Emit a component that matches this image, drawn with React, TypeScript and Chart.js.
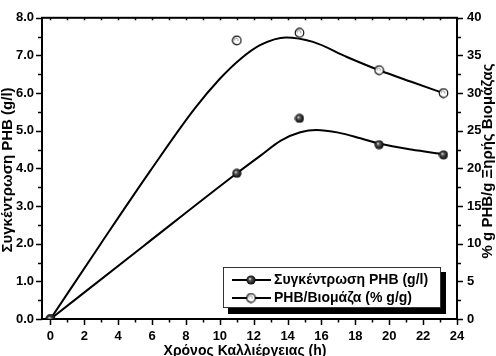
import React, { useEffect, useRef } from 'react';
import { Chart, registerables } from 'chart.js';
Chart.register(...registerables);

// Measured points
const timeH = [0, 11, 14.7, 19.4, 23.2];
const phbConc = [0, 3.87, 5.33, 4.63, 4.36];
const phbPercent = [0, 37.0, 38.0, 33.05, 30.0];

// Fitted curves
const phbFitTime = [0, 5.5, 11, 12.4, 13.6, 14.75, 15.7, 17, 18.3, 19.4, 21.3, 23.2];
const phbFitValues = [0, 1.94, 3.87, 4.34, 4.74, 4.96, 5.02, 4.95, 4.8, 4.66, 4.5, 4.38];
const pctFitTime = [0, 3, 5.9, 8.5, 10, 11.2, 12.4, 13.9, 15.5, 17.5, 19.45, 21.3, 23.2];
const pctFitValues = [0, 10.1, 19.7, 27.9, 31.9, 34.5, 36.4, 37.4, 36.8, 34.8, 33.0, 31.5, 30.0];

// Ticks
const xTickValues = [0, 2, 4, 6, 8, 10, 12, 14, 16, 18, 20, 22, 24];
const leftTickValues = [0, 1, 2, 3, 4, 5, 6, 7, 8];
const rightTickValues = [0, 5, 10, 15, 20, 25, 30, 35, 40];

const seriesLabels = ['Συγκέντρωση PHB (g/l)', 'PHB/Βιομάζα (% g/g)'];
const xTitle = 'Χρόνος Καλλιέργειας (h)';
const leftTitle = 'Συγκέντρωση PHB (g/l)';
const rightTitle = '% g PHB/g Ξηρής Βιομάζας';

const FONT = '"Liberation Sans", Arial, sans-serif';

function makeBlackMarker() {
  const c = document.createElement('canvas');
  c.width = 10; c.height = 10;
  const g = c.getContext('2d')!;
  g.beginPath();
  g.arc(5, 5, 4.6, 0, Math.PI * 2);
  const grad = g.createRadialGradient(3.8, 3.8, 0.2, 5, 5, 4.8);
  grad.addColorStop(0, '#e8e8e8');
  grad.addColorStop(0.3, '#555');
  grad.addColorStop(1, '#000');
  g.fillStyle = grad;
  g.fill();
  return c;
}

function makeWhiteMarker() {
  const c = document.createElement('canvas');
  c.width = 11; c.height = 11;
  const g = c.getContext('2d')!;
  g.beginPath();
  g.arc(5.5, 5.5, 4.3, 0, Math.PI * 2);
  g.fillStyle = '#fff';
  g.fill();
  g.lineWidth = 1.2;
  g.strokeStyle = '#111';
  g.stroke();
  g.beginPath();
  g.arc(5, 5, 1.8, Math.PI * 0.9, Math.PI * 2.2);
  g.lineWidth = 1;
  g.strokeStyle = '#888';
  g.stroke();
  return c;
}

const App = () => {
  const ref = useRef<HTMLCanvasElement>(null);
  useEffect(() => {
    const canvas = ref.current!;
    const blackMarker = makeBlackMarker();
    const whiteMarker = makeWhiteMarker();

    const framePlugin = {
      id: 'frame',
      beforeDatasetsDraw(chart: any) {
        const { ctx, chartArea: a, scales } = chart;
        const xs = scales.x, yl = scales.y, yr = scales.y1;
        ctx.save();
        ctx.strokeStyle = '#000';
        ctx.lineWidth = 2;
        ctx.strokeRect(a.left, a.top, a.right - a.left, a.bottom - a.top);
        ctx.lineWidth = 1.5;
        ctx.beginPath();
        for (let v = 0; v <= 24; v += 1) {
          const px = Math.round(xs.getPixelForValue(v)) + 0.5;
          const len = v % 2 === 0 ? 6 : 3.5;
          ctx.moveTo(px, a.bottom);
          ctx.lineTo(px, a.bottom + len);
          ctx.moveTo(px, a.top);
          ctx.lineTo(px, a.top + 2.5);
        }
        for (let v = 0; v <= 8; v += 0.5) {
          const py = Math.round(yl.getPixelForValue(v)) + 0.5;
          const len = v % 1 === 0 ? 6 : 4;
          ctx.moveTo(a.left, py);
          ctx.lineTo(a.left - len, py);
        }
        for (let v = 0; v <= 40; v += 2.5) {
          const py = Math.round(yr.getPixelForValue(v)) + 0.5;
          const len = v % 5 === 0 ? 6 : 4;
          ctx.moveTo(a.right, py);
          ctx.lineTo(a.right + len, py);
        }
        ctx.stroke();
        ctx.restore();
      },
      afterDraw(chart: any) {
        const { ctx } = chart;
        ctx.save();
        ctx.fillStyle = '#000';
        ctx.font = `bold 14px ${FONT}`;
        ctx.textAlign = 'center';
        ctx.textBaseline = 'alphabetic';
        ctx.fillText(xTitle, 245, 355);
        ctx.font = `bold 15px ${FONT}`;
        ctx.textBaseline = 'middle';
        ctx.save();
        ctx.translate(8, 170);
        ctx.rotate(-Math.PI / 2);
        ctx.fillText(leftTitle, 0, 0);
        ctx.restore();
        ctx.save();
        ctx.translate(488, 161);
        ctx.rotate(-Math.PI / 2);
        ctx.fillText(rightTitle, 0, 0);
        ctx.restore();

        ctx.fillStyle = '#000';
        ctx.fillRect(228, 272, 218, 42);
        ctx.fillStyle = '#fff';
        ctx.fillRect(223, 267, 218, 41);
        ctx.strokeStyle = '#333';
        ctx.lineWidth = 1;
        ctx.strokeRect(223.5, 267.5, 217, 40);
        const rows = [280, 298];
        const markers = [blackMarker, whiteMarker];
        ctx.font = `bold 14px ${FONT}`;
        ctx.textAlign = 'left';
        ctx.textBaseline = 'middle';
        rows.forEach((y, i) => {
          ctx.strokeStyle = '#000';
          ctx.lineWidth = 2;
          ctx.beginPath();
          ctx.moveTo(232, y);
          ctx.lineTo(271, y);
          ctx.stroke();
          const m = markers[i];
          ctx.drawImage(m, 251 - m.width / 2, y - m.height / 2);
          ctx.fillStyle = '#000';
          ctx.fillText(seriesLabels[i], 274, y + 0.5);
        });
        ctx.restore();
      },
    };

    const chart = new Chart(canvas, {
      type: 'line',
      data: {
        datasets: [
          {
            label: 'phbFit',
            data: phbFitTime.map((x, i) => ({ x, y: phbFitValues[i] })),
            yAxisID: 'y',
            borderColor: '#000',
            borderWidth: 2,
            pointRadius: 0,
            cubicInterpolationMode: 'monotone',
            fill: false,
            order: 3,
          },
          {
            label: 'pctFit',
            data: pctFitTime.map((x, i) => ({ x, y: pctFitValues[i] })),
            yAxisID: 'y1',
            borderColor: '#000',
            borderWidth: 2,
            pointRadius: 0,
            cubicInterpolationMode: 'monotone',
            fill: false,
            order: 3,
          },
          {
            label: seriesLabels[0],
            data: timeH.map((x, i) => ({ x, y: phbConc[i] })),
            yAxisID: 'y',
            showLine: false,
            pointStyle: blackMarker as any,
            pointRadius: 5,
            order: 1,
          },
          {
            label: seriesLabels[1],
            data: timeH.map((x, i) => ({ x, y: phbPercent[i] })),
            yAxisID: 'y1',
            showLine: false,
            pointStyle: whiteMarker as any,
            pointRadius: 5,
            order: 1,
          },
        ],
      },
      options: {
        animation: false,
        responsive: false,
        devicePixelRatio: 1,
        layout: { padding: { top: 16, left: 0, right: 0, bottom: 0 } },
        plugins: { legend: { display: false }, tooltip: { enabled: false } },
        scales: {
          x: {
            type: 'linear',
            position: 'bottom',
            min: -0.5,
            max: 24,
            grid: { display: false, drawTicks: false },
            border: { display: false },
            afterBuildTicks: (s: any) => { s.ticks = xTickValues.map((v) => ({ value: v })); },
            afterFit: (s: any) => { s.height = 37; },
            ticks: {
              color: '#000',
              font: { family: FONT, size: 13, weight: 'bold' },
              padding: 10,
              maxRotation: 0,
              autoSkip: false,
              callback: (v: any) => String(v),
            },
          },
          y: {
            type: 'linear',
            position: 'left',
            min: 0,
            max: 8,
            grid: { display: false, drawTicks: false },
            border: { display: false },
            afterBuildTicks: (s: any) => { s.ticks = leftTickValues.map((v) => ({ value: v })); },
            afterFit: (s: any) => { s.width = 42; },
            ticks: {
              color: '#000',
              font: { family: FONT, size: 13, weight: 'bold' },
              padding: 8,
              autoSkip: false,
              callback: (v: any) => Number(v).toFixed(1),
            },
          },
          y1: {
            type: 'linear',
            position: 'right',
            min: 0,
            max: 40,
            grid: { display: false, drawTicks: false },
            border: { display: false },
            afterBuildTicks: (s: any) => { s.ticks = rightTickValues.map((v) => ({ value: v })); },
            afterFit: (s: any) => { s.width = 39; },
            ticks: {
              color: '#000',
              font: { family: FONT, size: 13, weight: 'bold' },
              padding: 10,
              autoSkip: false,
              callback: (v: any) => String(v),
            },
          },
        },
      },
      plugins: [framePlugin],
    } as any);
    return () => chart.destroy();
  }, []);
  return (
    <div style={{ position: 'absolute', left: 0, top: 0, width: 496, height: 356 }}>
      <canvas ref={ref} width={496} height={356} style={{ display: 'block', width: 496, height: 356 }} />
    </div>
  );
};

export default App;
